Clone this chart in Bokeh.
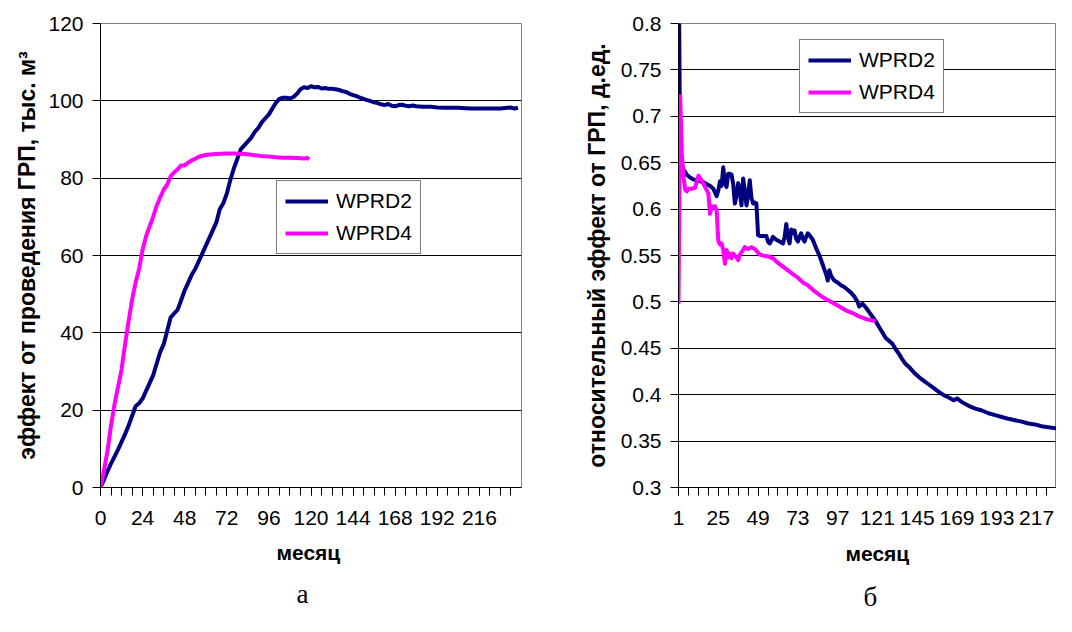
from bokeh.plotting import figure
from bokeh.layouts import row
from bokeh.models import (FixedTicker, Legend, LegendItem, Title,
                          CustomJSTickFormatter)
from bokeh.embed import file_html
from bokeh.resources import INLINE

# ---------------- data: chart "а" (cumulative effect, thousand m3) --------
a_months_wprd2 = [0, 2, 4, 6, 8, 10, 12, 14, 16, 18, 20, 22, 24, 26, 28, 30, 32,
                  34, 36, 38, 40, 42, 44, 46, 48, 50, 52, 54, 56, 58, 60, 62, 64,
                  66, 68, 70, 72, 74, 76, 78, 80, 82, 84, 86, 88, 90, 92, 94, 96,
                  98, 100, 102, 104, 106, 108, 110, 112, 114, 116, 118, 120, 122,
                  124, 126, 128, 130, 132, 134, 136, 138, 140, 142, 144, 146, 148,
                  150, 152, 154, 156, 158, 160, 162, 164, 166, 168, 170, 172, 174,
                  176, 178, 180, 184, 188, 192, 196, 200, 204, 208, 212, 216, 220,
                  224, 228, 232, 234, 236, 238]
a_values_wprd2 = [0, 2, 4.2, 6.2, 8, 9.8, 11.8, 13.8, 16, 18.5, 21, 21.8, 23, 25,
                  27, 29, 32, 35, 37, 40.5, 44, 45, 46, 48.5, 51, 53, 55, 56.5,
                  58.5, 60.5, 62.5, 64.5, 66.5, 68.5, 72, 73.5, 76, 79.5, 82.5, 85,
                  87.5, 88.5, 89.5, 90.5, 92, 93, 94.5, 95.5, 96.5, 98, 99.5, 100.5,
                  100.8, 100.8, 100.6, 101, 101.8, 103, 103.5, 103.3, 103.8, 103.5,
                  103.6, 103.2, 103.3, 103.1, 103.1, 103, 102.8, 102.5, 102.3,
                  101.8, 101.5, 101.2, 100.8, 100.5, 100.2, 99.9, 99.6, 99.4, 99.1,
                  98.9, 99.2, 98.7, 98.6, 98.9, 99, 98.7, 98.6, 98.8, 98.6, 98.5,
                  98.5, 98.3, 98.2, 98.2, 98.2, 98.1, 98.0, 98.0, 98.0, 98.0, 98.0,
                  98.2, 98.3, 98.0, 98.2]

a_months_wprd4 = [0, 2, 4, 6, 8, 10, 12, 14, 16, 18, 20, 22, 24, 26, 28, 30, 32,
                  34, 36, 38, 40, 42, 44, 46, 48, 50, 52, 54, 56, 58, 60, 64, 68,
                  72, 76, 80, 84, 88, 92, 96, 100, 104, 108, 112, 116, 118, 119]
a_values_wprd4 = [0, 4.5, 9.5, 16, 21.5, 26, 30.5, 37, 43, 48.5, 53, 56.5, 61.5,
                  65, 67.5, 70, 72.8, 75, 77, 78.3, 80.5, 81.5, 82.3, 83.3, 83.3,
                  84, 84.6, 85, 85.5, 85.8, 86, 86.2, 86.3, 86.4, 86.4, 86.3, 86.2,
                  85.9, 85.7, 85.6, 85.4, 85.3, 85.3, 85.2, 85.1, 85.2, 84.9]

a_y_ticks = [0, 20, 40, 60, 80, 100, 120]
a_x_labels = [0, 24, 48, 72, 96, 120, 144, 168, 192, 216]
a_x_minor = list(range(0, 240, 6))

# ---------------- data: chart "б" (relative effect, fractions) ------------
b_months_wprd2 = [1, 2, 3, 4, 6, 8, 10, 12, 14, 16, 18, 20, 22, 23, 24, 25, 26,
                  27, 28, 29, 30, 31, 32, 33, 34, 35, 36, 37, 38, 39, 40, 41, 42,
                  43, 44, 45, 46, 47, 48, 49, 50, 52, 54, 55, 56, 57, 58, 60, 62,
                  64, 65, 66, 67, 68, 69, 70, 71, 72, 73, 74, 75, 76, 77, 78, 79,
                  80, 82, 84, 86, 88, 90, 91, 92, 93, 95, 97, 99, 101, 103, 105,
                  107, 109, 110, 112, 114, 116, 118, 120, 122, 124, 126, 128, 130,
                  132, 134, 136, 138, 140, 143, 146, 149, 152, 155, 158, 161, 164,
                  167, 169, 172, 176, 180, 184, 188, 192, 196, 200, 204, 208, 212,
                  216, 220, 224, 228, 232]
b_values_wprd2 = [0.9, 0.655, 0.648, 0.643, 0.637, 0.634, 0.632, 0.631, 0.63,
                  0.629, 0.627, 0.625, 0.622, 0.618, 0.614, 0.62, 0.63, 0.625,
                  0.645, 0.628, 0.624, 0.638, 0.638, 0.637, 0.627, 0.606, 0.615,
                  0.628, 0.618, 0.604, 0.633, 0.62, 0.604, 0.615, 0.631, 0.612,
                  0.606, 0.607, 0.606, 0.572, 0.571, 0.571, 0.571, 0.565, 0.563,
                  0.566, 0.57, 0.567, 0.565, 0.563, 0.57, 0.584, 0.57, 0.563, 0.578,
                  0.574, 0.577, 0.568, 0.565, 0.57, 0.574, 0.568, 0.565, 0.57,
                  0.574, 0.572, 0.567, 0.558, 0.55, 0.54, 0.53, 0.523, 0.534, 0.528,
                  0.523, 0.521, 0.518, 0.516, 0.513, 0.51, 0.506, 0.5, 0.495, 0.498,
                  0.494, 0.489, 0.484, 0.479, 0.473, 0.467, 0.461, 0.458, 0.455,
                  0.449, 0.444, 0.438, 0.433, 0.43, 0.424, 0.419, 0.415, 0.411,
                  0.407, 0.403, 0.3995, 0.397, 0.394, 0.396, 0.392, 0.388, 0.385,
                  0.383, 0.38, 0.378, 0.376, 0.374, 0.3725, 0.371, 0.369, 0.368,
                  0.366, 0.365, 0.364, 0.363]

b_months_wprd4 = [1, 2, 3, 4, 5, 6, 7, 9, 11, 13, 15, 17, 19, 20, 21, 22, 23, 24,
                  25, 26, 27, 28, 29, 30, 31, 32, 33, 34, 35, 36, 37, 38, 40, 41,
                  43, 45, 47, 48, 50, 52, 55, 58, 61, 64, 67, 70, 73, 76, 79, 82,
                  85, 88, 91, 94, 97, 100, 103, 106, 109, 112, 115, 118, 120]
b_values_wprd4 = [0.498, 0.722, 0.66, 0.635, 0.621, 0.619, 0.622, 0.622, 0.623,
                  0.636, 0.631, 0.624, 0.617, 0.595, 0.603, 0.602, 0.603, 0.599,
                  0.566, 0.562, 0.563, 0.556, 0.541, 0.556, 0.548, 0.552, 0.547,
                  0.552, 0.55, 0.548, 0.545, 0.551, 0.556, 0.559, 0.557, 0.559,
                  0.557, 0.555, 0.551, 0.55, 0.549, 0.547, 0.542, 0.538, 0.534,
                  0.53, 0.526, 0.521, 0.518, 0.513, 0.509, 0.505, 0.502, 0.499,
                  0.496, 0.493, 0.49, 0.488, 0.485, 0.483, 0.481, 0.48, 0.479]

b_y_ticks = [0.3, 0.35, 0.4, 0.45, 0.5, 0.55, 0.6, 0.65, 0.7, 0.75, 0.8]
b_x_labels = [1, 25, 49, 73, 97, 121, 145, 169, 193, 217]
b_x_minor = list(range(1, 230, 6))

series_names = ["WPRD2", "WPRD4"]
series_colors = ["#000080", "#FF00FF"]
x_title = "месяц"

FONT = "Liberation Sans"


def style(p, xlabels, xminor, yticks, ylabel, ylabel_standoff):
    p.background_fill_color = "white"
    p.border_fill_color = "white"
    p.outline_line_color = "#808080"
    p.outline_line_width = 1
    p.xgrid.visible = False
    p.ygrid.ticker = FixedTicker(ticks=yticks)
    p.ygrid.grid_line_color = "black"
    p.ygrid.grid_line_width = 1
    xa = p.xaxis[0]
    xa.ticker = FixedTicker(ticks=xlabels, minor_ticks=xminor)
    ya = p.yaxis[0]
    ya.ticker = FixedTicker(ticks=yticks)
    for ax in (xa, ya):
        ax.axis_line_color = "black"
        ax.axis_line_width = 1
        ax.major_tick_line_color = "black"
        ax.major_tick_in = 0
        ax.major_tick_out = 8
        ax.major_label_text_font = FONT
        ax.major_label_text_font_size = "21px"
        ax.major_label_text_color = "black"
        ax.axis_label_text_font = FONT
        ax.axis_label_text_font_size = "23px"
        ax.axis_label_text_font_style = "bold"
        ax.axis_label_text_color = "black"
    ya.major_label_standoff = 9
    xa.major_label_standoff = 15
    xa.minor_tick_line_color = "black"
    xa.minor_tick_in = 0
    xa.minor_tick_out = 8
    ya.minor_tick_line_color = None
    ya.axis_label = ylabel
    ya.axis_label_standoff = ylabel_standoff


def add_lines(p, xs_list, ys_list, legend_loc):
    rends = []
    for xs, ys, color in zip(xs_list, ys_list, series_colors):
        r = p.line(xs, ys, line_color=color, line_width=4, line_join="round")
        rends.append(r)
    leg = Legend(items=[LegendItem(label=n, renderers=[r])
                        for n, r in zip(series_names, rends)],
                 location=legend_loc, orientation="vertical",
                 border_line_color="black", border_line_width=1,
                 background_fill_color="white", background_fill_alpha=1.0,
                 label_text_font=FONT, label_text_font_size="21px",
                 label_text_color="black",
                 glyph_width=43, glyph_height=20, label_height=20,
                 spacing=8, padding=8, margin=0, label_standoff=8)
    p.add_layout(leg)


def add_bottom_titles(p, title_offset, title_standoff, letter, letter_offset,
                      letter_standoff):
    p.add_layout(Title(text=x_title, align="left", offset=title_offset,
                       standoff=title_standoff, text_font=FONT,
                       text_font_size="21px", text_font_style="bold",
                       text_color="black"), "below")
    p.add_layout(Title(text=letter, align="left", offset=letter_offset,
                       standoff=letter_standoff, text_font="Liberation Serif",
                       text_font_size="27px", text_font_style="normal",
                       text_color="black"), "below")


# ---------------- chart а ----------------
p1 = figure(width=540, height=616, x_range=(0, 240), y_range=(0, 120),
            output_backend="svg", toolbar_location=None,
            min_border_left=100, min_border_right=19,
            min_border_top=23, min_border_bottom=125)
style(p1, a_x_labels, a_x_minor, a_y_ticks,
      "эффект от проведения ГРП, тыс. м³", 5)
add_lines(p1, [a_months_wprd2, a_months_wprd4],
          [a_values_wprd2, a_values_wprd4], (176, 233))
add_bottom_titles(p1, 176, 23, "а", 196, 2)

# ---------------- chart б ----------------
p2 = figure(width=516, height=616, x_range=(1, 229), y_range=(0.3, 0.8),
            output_backend="svg", toolbar_location=None,
            min_border_left=138, min_border_right=0,
            min_border_top=23, min_border_bottom=129)
style(p2, b_x_labels, b_x_minor, b_y_ticks,
      "относительный эффект от ГРП, д.ед.", 8)
p2.yaxis[0].formatter = CustomJSTickFormatter(
    code="return (Math.round(tick * 100) / 100).toString();")
add_lines(p2, [b_months_wprd2, b_months_wprd4],
          [b_values_wprd2, b_values_wprd4], (121, 374))
add_bottom_titles(p2, 167, 25, "б", 185, 5)

layout = row(p1, p2)
open("out.html", "w").write(file_html(layout, INLINE))
